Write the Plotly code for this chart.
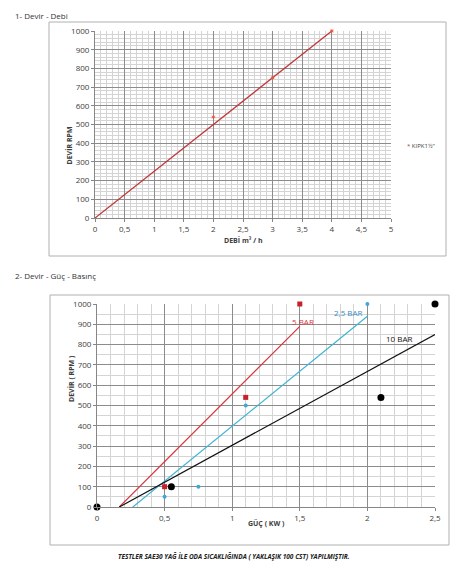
import plotly.graph_objects as go

# --- 1- Devir - Debi ---
debi_line_x = [0, 4]
debi_line_y = [0, 1000]
debi_points_x = [2, 3, 4]
debi_points_y = [540, 750, 1000]
debi_ticks = [0, 0.5, 1, 1.5, 2, 2.5, 3, 3.5, 4, 4.5, 5]
debi_ticktext = ["0", "0,5", "1", "1,5", "2", "2,5", "3", "3,5", "4", "4,5", "5"]

# --- 2- Devir - Güç - Basınç ---
bar5_line_x = [0.165, 1.5]
bar5_line_y = [0, 890]
bar5_points_x = [0.5, 1.1, 1.5]
bar5_points_y = [100, 540, 1000]

bar25_line_x = [0.265, 2.0]
bar25_line_y = [0, 940]
bar25_points_x = [0.5, 0.75, 1.1, 2.0]
bar25_points_y = [50, 100, 500, 1000]

bar10_line_x = [0.165, 2.5]
bar10_line_y = [0, 850]
bar10_points_x = [0, 0.55, 2.1, 2.5]
bar10_points_y = [0, 100, 540, 1000]

guc_ticks = [0, 0.5, 1, 1.5, 2, 2.5]
guc_ticktext = ["0", "0,5", "1", "1,5", "2", "2,5"]
rpm_ticks = list(range(0, 1001, 100))

# the page body has an 8px margin, so the figure is shrunk and coords shifted
OFF = 8
W, H = 469 - OFF, 580 - OFF
FONT = "Open Sans"
TICK_FONT = dict(family=FONT, size=8, color="#404040")


def px(x):
    return (x - OFF) / W


def py(y):
    return 1 - (y - OFF) / H


fig = go.Figure()

# top chart
fig.add_trace(go.Scatter(
    x=debi_line_x, y=debi_line_y, mode="lines",
    line=dict(color="#c0393b", width=1.3), xaxis="x", yaxis="y",
))
fig.add_trace(go.Scatter(
    x=debi_points_x, y=debi_points_y, mode="markers",
    marker=dict(symbol="asterisk-open", size=3, line=dict(color="#8a4a4a", width=1)),
    name="KIPK1½\"", cliponaxis=False, xaxis="x", yaxis="y",
))

# bottom chart
fig.add_trace(go.Scatter(
    x=bar5_line_x, y=bar5_line_y, mode="lines",
    line=dict(color="#d9363e", width=1.2), xaxis="x2", yaxis="y2",
))
fig.add_trace(go.Scatter(
    x=bar25_line_x, y=bar25_line_y, mode="lines",
    line=dict(color="#3fb4d2", width=1.2), xaxis="x2", yaxis="y2",
))
fig.add_trace(go.Scatter(
    x=bar10_line_x, y=bar10_line_y, mode="lines",
    line=dict(color="#111111", width=1.2), xaxis="x2", yaxis="y2",
))
fig.add_trace(go.Scatter(
    x=bar5_points_x, y=bar5_points_y, mode="markers",
    marker=dict(symbol="square", size=5, color="#c8202a"),
    cliponaxis=False, xaxis="x2", yaxis="y2",
))
fig.add_trace(go.Scatter(
    x=bar25_points_x, y=bar25_points_y, mode="markers",
    marker=dict(symbol="circle", size=4, color="#3fa6d6"),
    cliponaxis=False, xaxis="x2", yaxis="y2",
))
fig.add_trace(go.Scatter(
    x=bar10_points_x, y=bar10_points_y, mode="markers",
    marker=dict(symbol="circle", size=7, color="#000000"),
    cliponaxis=False, xaxis="x2", yaxis="y2",
))

axis_common = dict(
    showgrid=True, gridcolor="#8c8c8c", gridwidth=1,
    showline=True, linecolor="#868686", linewidth=1,
    ticks="outside", ticklen=3, tickcolor="#868686",
    tickfont=TICK_FONT, zeroline=False, fixedrange=True,
    automargin=False,
)

fig.update_layout(
    width=W, height=H,
    margin=dict(l=0, r=0, t=0, b=0, autoexpand=False),
    showlegend=False,
    paper_bgcolor="white", plot_bgcolor="white",
    font=dict(family=FONT, color="#404040"),
    xaxis=dict(
        domain=[px(95), px(391)], range=[0, 5], anchor="y",
        tickvals=debi_ticks, ticktext=debi_ticktext,
        minor=dict(dtick=0.1, showgrid=True, gridcolor="#d4d4d4", gridwidth=1),
        **axis_common,
    ),
    yaxis=dict(
        domain=[py(218), py(31)], range=[0, 1000], anchor="x",
        tickvals=rpm_ticks,
        minor=dict(dtick=20, showgrid=True, gridcolor="#d4d4d4", gridwidth=1),
        **axis_common,
    ),
    xaxis2=dict(
        domain=[px(97), px(435)], range=[0, 2.5], anchor="y2",
        tickvals=guc_ticks, ticktext=guc_ticktext,
        minor=dict(dtick=0.1, showgrid=True, gridcolor="#d4d4d4", gridwidth=1),
        **axis_common,
    ),
    yaxis2=dict(
        domain=[py(507), py(304)], range=[0, 1000], anchor="x2",
        tickvals=rpm_ticks,
        minor=dict(dtick=50, showgrid=True, gridcolor="#d4d4d4", gridwidth=1),
        **axis_common,
    ),
    shapes=[
        dict(type="rect", xref="paper", yref="paper",
             x0=px(49), x1=px(446), y0=py(256), y1=py(22),
             line=dict(color="#b0b0b0", width=1)),
        dict(type="rect", xref="paper", yref="paper",
             x0=px(50), x1=px(449), y0=py(545), y1=py(295),
             line=dict(color="#b0b0b0", width=1)),
    ],
)

ann = [
    dict(x=px(13), y=1, text="1- Devir - Debi", xanchor="left",
         yanchor="top", font=dict(size=8, color="#333333")),
    dict(x=px(13), y=py(275), text="2- Devir - Güç - Basınç", xanchor="left",
         yanchor="middle", font=dict(size=8, color="#333333")),
    dict(x=px(405), y=py(140), xanchor="left",
         text="<span style='color:#8a4a4a'>*</span> KIPK1½\"",
         font=dict(size=6, color="#404040")),
    dict(x=px(62), y=py(125), text="<b>DEVİR RPM</b>", textangle=-90,
         font=dict(size=7, color="#404040")),
    dict(x=px(243), y=py(240), text="<b>DEBİ m³ / h</b>",
         font=dict(size=7, color="#404040")),
    dict(x=px(65), y=py(404), text="<b>DEVİR ( RPM )</b>", textangle=-90,
         font=dict(size=7, color="#404040")),
    dict(x=px(266), y=py(530), text="<b>GÜÇ ( KW )</b>",
         font=dict(size=7, color="#404040")),
    dict(x=px(234), y=py(563),
         text="<b><i>TESTLER SAE30 YAĞ İLE ODA SICAKLIĞINDA ( YAKLAŞIK 100 CST) YAPILMIŞTIR.</i></b>",
         font=dict(size=6.5, color="#222222")),
    dict(x=1.52, y=916, xref="x2", yref="y2", text="5 BAR",
         font=dict(size=8, color="#d9363e")),
    dict(x=1.86, y=957, xref="x2", yref="y2", text="2,5 BAR",
         font=dict(size=8, color="#3a8cc0")),
    dict(x=2.23, y=828, xref="x2", yref="y2", text="10 BAR",
         font=dict(size=8, color="#111111")),
]
for a in ann:
    a.setdefault("xref", "paper")
    a.setdefault("yref", "paper")
    a["showarrow"] = False
    a["font"]["family"] = FONT
fig.update_layout(annotations=ann)

fig.write_html("out.html")
